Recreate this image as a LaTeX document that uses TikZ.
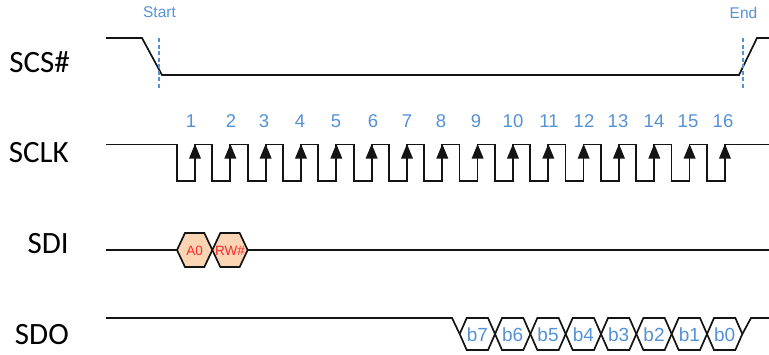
\documentclass[tikz,border=0pt]{standalone}
\usepackage{fontspec}
\setmainfont{Liberation Sans}
\newfontfamily\lblfont{Carlito}
\definecolor{nblue}{RGB}{85,145,215}
\definecolor{hexfill}{RGB}{252,213,180}
\definecolor{hexred}{RGB}{255,40,40}
\definecolor{sigcol}{RGB}{20,20,20}
\begin{document}
\begin{tikzpicture}[x=1pt,y=-1pt,
  sig/.style={line width=1.7pt, draw=sigcol, line join=miter},
  marker/.style={line width=1.1pt, draw=nblue, dash pattern=on 4pt off 2.5pt},
  lbl/.style={anchor=east, inner sep=0pt, font=\lblfont\fontsize{31}{36}\selectfont},
  num/.style={inner sep=0pt, text=nblue, font=\fontsize{18.5}{20}\selectfont},
  evt/.style={inner sep=0pt, text=nblue, font=\fontsize{15.5}{17}\selectfont},
  sdotxt/.style={inner sep=0pt, text=nblue, font=\fontsize{19}{20}\selectfont},
  sditxt/.style={inner sep=0pt, text=hexred, font=\fontsize{13.5}{14}\selectfont}]
\useasboundingbox (0,0) rectangle (769,354);
\def\P{35.33}
% labels
\node[lbl] (lscs) at (70,62) {SCS\#};
\node[lbl] (lsclk) at (69,153) {SCLK};
\node[lbl] (lsdi) at (69,244) {SDI};
\node[lbl] (lsdo) at (69,335) {SDO};
% SCS#
\draw[sig] (106,38) -- (142,38) -- (162,75) -- (739,75) -- (757,38) -- (769,38);
\draw[marker] (159,38) -- (159,89);
\draw[marker] (743,38) -- (743,89);
\node[evt] (start) at (159.5,12.5) {Start};
\node[evt] (end) at (743.5,12.5) {End};
% SCLK
\draw[sig] (106,144.5) foreach \k in {0,...,15} {
  -- ({177+\P*\k},144.5) -- ({177+\P*\k},181) -- ({195+\P*\k},181) -- ({195+\P*\k},144.5) }
  -- (769,144.5);
\foreach \k in {0,...,15} {
  \fill[sigcol] ({195+\P*\k},144) -- ++(-6,14.5) -- ++(12,0) -- cycle;
}
\foreach \x [count=\n] in {191,231,264,300,336,373,407,441,476,513,549,584,618,654,688,723} {
  \node[num] (n\n) at (\x,121) {\n};
}
% SDI
\draw[sig] (106,250) -- (177,250);
\draw[sig] (247.7,250) -- (769,250);
\foreach \k/\t in {0/A0,1/RW\#} {
  \pgfmathsetmacro\a{177+\P*\k}
  \pgfmathsetmacro\b{\a+\P}
  \filldraw[sig, fill=hexfill] (\a,250) -- (\a+8,233) -- (\b-8,233) -- (\b,250) -- (\b-8,267) -- (\a+8,267) -- cycle;
  \node[sditxt] (sdi\k) at ({(\a+\b)/2},250.5) {\t};
}
% SDO
\draw[sig] (106,318) -- (452,318) -- (459.7,334);
\draw[sig] ({459.7+8*\P},334) -- (751,318) -- (769,318);
\foreach \k/\t in {0/b7,1/b6,2/b5,3/b4,4/b3,5/b2,6/b1,7/b0} {
  \pgfmathsetmacro\a{459.7+\P*\k}
  \pgfmathsetmacro\b{\a+\P}
  \draw[sig] (\a,334) -- (\a+7,318) -- (\b-7,318) -- (\b,334) -- (\b-7,350) -- (\a+7,350) -- cycle;
  \node[sdotxt] (sdo\k) at ({(\a+\b)/2},335) {\t};
}
\end{tikzpicture}
\end{document}
